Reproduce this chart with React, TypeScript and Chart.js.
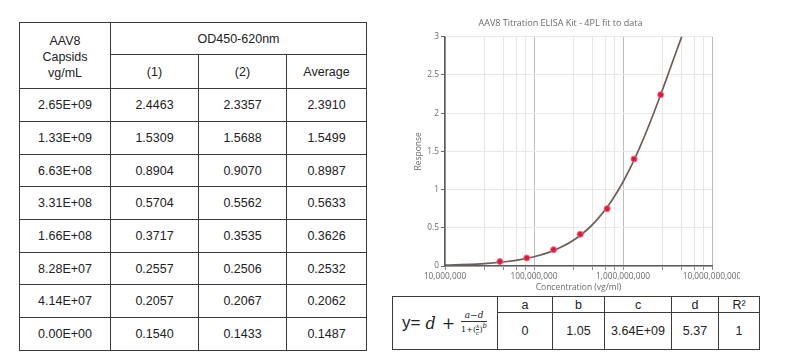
import React, { useEffect, useRef } from "react";
import { Chart, registerables } from "chart.js";

Chart.register(...registerables);

// ---- Data ----
const capsidConc = ["2.65E+09", "1.33E+09", "6.63E+08", "3.31E+08", "1.66E+08", "8.28E+07", "4.14E+07", "0.00E+00"];
const od1 = [2.4463, 1.5309, 0.8904, 0.5704, 0.3717, 0.2557, 0.2057, 0.154];
const od2 = [2.3357, 1.5688, 0.907, 0.5562, 0.3535, 0.2506, 0.2067, 0.1433];
const odAvg = [2.391, 1.5499, 0.8987, 0.5633, 0.3626, 0.2532, 0.2062, 0.1487];

const pointConc = [4.14e7, 8.28e7, 1.66e8, 3.31e8, 6.63e8, 1.33e9, 2.65e9];
const pointResponse = [0.058, 0.105, 0.214, 0.415, 0.75, 1.401, 2.242];

const curveConc = [1e7, 1.5e7, 2e7, 3e7, 5e7, 7e7, 1e8, 1.5e8, 2e8, 3e8, 4e8, 5e8, 7e8, 1e9, 1.25e9, 1.5e9, 2e9, 2.5e9, 3e9, 3.5e9, 4e9, 4.6e9];
const curveResponse = [0.011, 0.017, 0.023, 0.035, 0.059, 0.083, 0.121, 0.182, 0.244, 0.364, 0.481, 0.594, 0.808, 1.1, 1.319, 1.519, 1.868, 2.162, 2.413, 2.63, 2.818, 3.01];

const gridSignificands = [1, 2.8, 4.6, 6.4, 8.1];
const decades = [1e7, 1e8, 1e9];
const xMin = 1e7;
const xMax = 1e10;

const fitLabels = ["a", "b", "c", "d", "R\u00b2"];
const fitValues = ["0", "1.05", "3.64E+09", "5.37", "1"];

const chartTitle = "AAV8 Titration ELISA Kit - 4PL fit to data";
const xTitle = "Concentration (vg/ml)";
const yTitle = "Response";

const isPow10 = (v: number) => Math.abs(Math.log10(v) - Math.round(Math.log10(v))) < 1e-9;

const cellBorder = "1px solid #3a3a3a";
const tableFont = "'Liberation Sans', Arial, sans-serif";

function LeftTable() {
  const colW = [91, 88, 88, 80];
  const rowH = [33, 33, 32, 33, 33, 32, 33, 33];
  const td: React.CSSProperties = {
    border: cellBorder,
    textAlign: "center",
    verticalAlign: "middle",
    padding: 0,
    fontSize: 12.5,
    color: "#222",
  };
  return (
    <table
      style={{
        position: "absolute",
        left: 19,
        top: 22,
        borderCollapse: "collapse",
        tableLayout: "fixed",
        width: 347,
        fontFamily: tableFont,
      }}
    >
      <colgroup>
        {colW.map((w, i) => (
          <col key={i} style={{ width: w }} />
        ))}
      </colgroup>
      <tbody>
        <tr style={{ height: 32 }}>
          <td rowSpan={2} style={{ ...td, lineHeight: "16px", paddingTop: 2 }}>
            AAV8
            <br />
            Capsids
            <br />
            vg/mL
          </td>
          <td colSpan={3} style={td}>
            OD450-620nm
          </td>
        </tr>
        <tr style={{ height: 34 }}>
          <td style={td}>(1)</td>
          <td style={td}>(2)</td>
          <td style={td}>Average</td>
        </tr>
        {capsidConc.map((c, i) => (
          <tr key={c} style={{ height: rowH[i] }}>
            <td style={td}>{c}</td>
            <td style={td}>{od1[i].toFixed(4)}</td>
            <td style={td}>{od2[i].toFixed(4)}</td>
            <td style={td}>{odAvg[i].toFixed(4)}</td>
          </tr>
        ))}
      </tbody>
    </table>
  );
}

function Formula() {
  const serif = "'DejaVu Serif', 'Liberation Serif', serif";
  return (
    <span style={{ whiteSpace: "nowrap", display: "inline-flex", alignItems: "center", color: "#222" }}>
      <span style={{ fontFamily: tableFont, fontSize: 17 }}>y=</span>
      <span style={{ fontFamily: serif, fontStyle: "italic", fontSize: 16, marginLeft: 5 }}>d</span>
      <span style={{ fontFamily: serif, fontSize: 16, margin: "0 6px" }}>+</span>
      <span
        style={{
          display: "inline-flex",
          flexDirection: "column",
          alignItems: "center",
          fontFamily: serif,
          fontSize: 9,
          lineHeight: "10px",
        }}
      >
        <span style={{ fontStyle: "italic", padding: "0 2px 1px" }}>{"a\u2212d"}</span>
        <span
          style={{
            borderTop: "1px solid #333",
            paddingTop: 1,
            display: "inline-flex",
            alignItems: "center",
            fontSize: 8,
          }}
        >
          {"1+("}
          <span
            style={{
              display: "inline-flex",
              flexDirection: "column",
              alignItems: "center",
              fontStyle: "italic",
              fontSize: 6,
              lineHeight: "6px",
            }}
          >
            <span>x</span>
            <span style={{ borderTop: "0.5px solid #333" }}>c</span>
          </span>
          {")"}
          <sup style={{ fontStyle: "italic", fontSize: 7, lineHeight: "7px", alignSelf: "flex-start" }}>b</sup>
        </span>
      </span>
    </span>
  );
}

function FitTable() {
  const colW = [105, 55, 52, 67, 47, 41];
  const td: React.CSSProperties = {
    border: cellBorder,
    textAlign: "center",
    verticalAlign: "middle",
    padding: 0,
    fontSize: 12.5,
    color: "#222",
  };
  return (
    <table
      style={{
        position: "absolute",
        left: 392,
        top: 296,
        borderCollapse: "collapse",
        tableLayout: "fixed",
        width: 367,
        fontFamily: tableFont,
      }}
    >
      <colgroup>
        {colW.map((w, i) => (
          <col key={i} style={{ width: w }} />
        ))}
      </colgroup>
      <tbody>
        <tr style={{ height: 16 }}>
          <td rowSpan={2} style={{ ...td, textAlign: "left", paddingLeft: 9 }}>
            <Formula />
          </td>
          {fitLabels.map((l) => (
            <td key={l} style={{ ...td, lineHeight: "14px" }}>
              {l}
            </td>
          ))}
        </tr>
        <tr style={{ height: 37 }}>
          {fitValues.map((v, i) => (
            <td key={i} style={td}>
              {v}
            </td>
          ))}
        </tr>
      </tbody>
    </table>
  );
}

function FitChart() {
  const ref = useRef<HTMLCanvasElement | null>(null);
  useEffect(() => {
    if (!ref.current) return;
    const font = "'Open Sans', 'DejaVu Sans', sans-serif";
    const chart = new Chart(ref.current, {
      type: "scatter",
      data: {
        datasets: [
          {
            label: "4PL fit",
            data: curveConc.map((x, i) => ({ x, y: curveResponse[i] })),
            showLine: true,
            borderColor: "#6d5e58",
            borderWidth: 1.7,
            pointRadius: 0,
            cubicInterpolationMode: "monotone",
            order: 2,
          },
          {
            label: "Data",
            data: pointConc.map((x, i) => ({ x, y: pointResponse[i] })),
            showLine: false,
            pointRadius: 3,
            pointBackgroundColor: "#e3173e",
            pointBorderColor: "#f26a80",
            pointBorderWidth: 1,
            order: 1,
          },
        ],
      },
      options: {
        animation: false,
        responsive: false,
        maintainAspectRatio: false,
        layout: { padding: { left: 9, right: 28, top: 0, bottom: 0 } },
        plugins: {
          legend: { display: false },
          tooltip: { enabled: false },
          title: {
            display: true,
            text: chartTitle,
            color: "#6a6a6a",
            font: { family: font, size: 9, weight: "normal" },
            padding: { top: 18, bottom: 8 },
          },
        },
        scales: {
          x: {
            type: "logarithmic",
            position: "bottom",
            min: xMin,
            max: xMax,
            afterBuildTicks: (scale: any) => {
              const ticks: any[] = [];
              decades.forEach((d) => gridSignificands.forEach((s) => ticks.push({ value: s * d })));
              ticks.push({ value: xMax });
              scale.ticks = ticks;
            },
            afterFit: (scale: any) => {
              scale.height = 30;
              scale.paddingLeft = 0;
              scale.paddingRight = 0;
            },
            ticks: {
              autoSkip: false,
              maxRotation: 0,
              minRotation: 0,
              padding: 2,
              color: "#6a6a6a",
              font: { family: font, size: 8.3 },
              callback: (v: any) => (isPow10(Number(v)) ? Number(v).toLocaleString("en-US") : ""),
            },
            grid: {
              color: (ctx: any) => (ctx.tick && isPow10(ctx.tick.value) ? "#bdbdbd" : "#e6e6e6"),
              tickColor: "#8a8a8a",
              tickLength: 4,
            },
            border: { display: true, color: "#5a5a5a", width: 1.5 },
            title: {
              display: true,
              text: xTitle,
              color: "#6a6a6a",
              font: { family: font, size: 8.5 },
              padding: { top: 0, bottom: 3 },
            },
          },
          y: {
            type: "linear",
            min: 0,
            max: 3,
            afterFit: (scale: any) => {
              scale.width = 36;
              scale.paddingTop = 0;
              scale.paddingBottom = 0;
            },
            ticks: {
              stepSize: 0.5,
              padding: 2,
              color: "#6a6a6a",
              font: { family: font, size: 8.3 },
              callback: (v: any) => String(Math.round(Number(v) * 10) / 10),
            },
            grid: {
              color: "#e8e8e8",
              tickColor: "#6a6a6a",
              tickLength: 4,
            },
            border: { display: true, color: "#5a5a5a", width: 1.5 },
            title: {
              display: true,
              text: yTitle,
              color: "#6a6a6a",
              font: { family: font, size: 8.5 },
              padding: { top: 4, bottom: 0 },
            },
          },
        },
      },
    } as any);
    return () => chart.destroy();
  }, []);
  return (
    <div style={{ position: "absolute", left: 400, top: 0, width: 340, height: 296 }}>
      <canvas ref={ref} width={340} height={296} style={{ width: 340, height: 296, display: "block" }} />
    </div>
  );
}

export default function App() {
  return (
    <div
      style={{
        position: "fixed",
        left: 0,
        top: 0,
        width: 792,
        height: 362,
        background: "#fff",
        overflow: "hidden",
      }}
    >
      <LeftTable />
      <FitChart />
      <FitTable />
    </div>
  );
}
